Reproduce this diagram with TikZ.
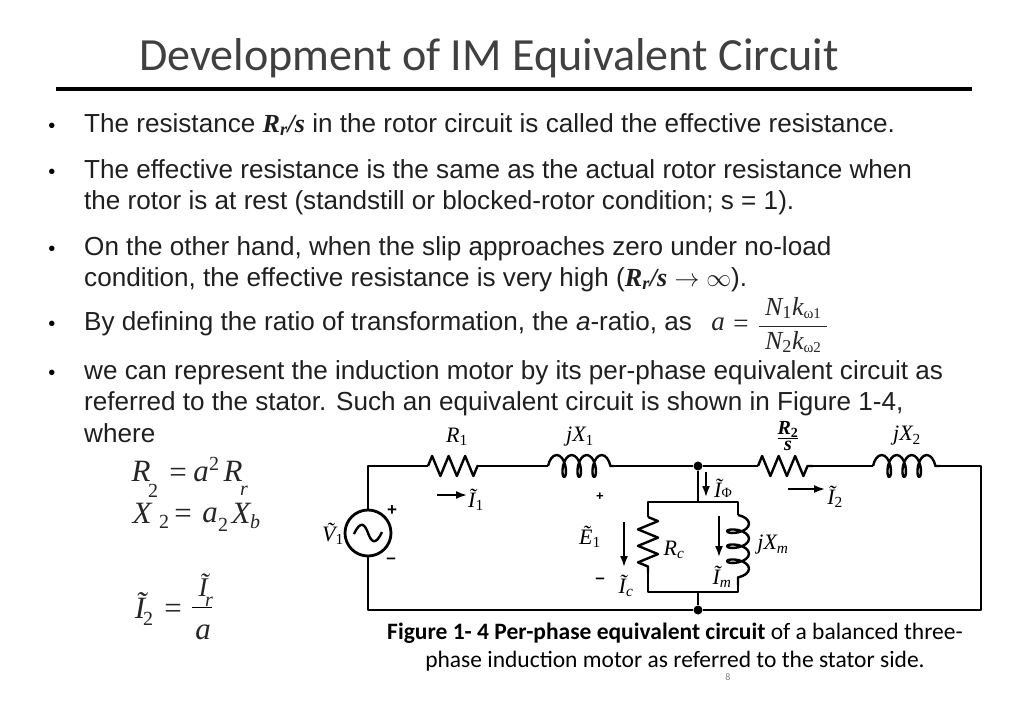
\documentclass[tikz,border=0pt]{standalone}
\usepackage{fontspec}
\setmainfont{Liberation Sans}
\newfontfamily\tms{Liberation Serif}
\newfontfamily\clb{Carlito}
\usetikzlibrary{arrows,arrows.meta,calc,positioning,decorations.pathmorphing}
\newcommand{\tld}[1]{\~{#1}}
\newcommand{\sbs}[1]{\textsubscript{\upshape #1}}
\newcommand{\bodyfrac}[2]{$\displaystyle\frac{\mbox{#1}}{\mbox{#2}}$}
\tikzset{
    wire/.style = {draw, line width=2.8pt, line join=round},
    res/.style = {wire, line width=2.4pt, decorate, decoration={zigzag, segment length=16.5pt, amplitude=10pt}},
    ind/.style = {wire, line width=2.4pt, decorate, decoration={coil, aspect=0.45, segment length=15pt, amplitude=11pt}},
    source/.style = {draw, circle, line width=2.8pt, minimum size=46pt, inner sep=0pt},
    dot/.style = {circle, fill=black, minimum size=9pt, inner sep=0pt},
    flow/.style = {draw, line width=1.8pt, -{Latex[length=11pt,width=8pt]}},
    lbl/.style = {inner sep=0pt, font=\fontsize{22}{24}\selectfont\tms\itshape},
    sign/.style = {inner sep=0pt, font=\fontsize{17}{18}\selectfont\bfseries},
    line/.style = {anchor=base west, inner sep=0pt, text=black!88, font=\fontsize{26.1}{28}\selectfont},
    bullet/.style = {inner sep=0pt, font=\fontsize{20}{24}\selectfont},
    eqn/.style = {inner sep=0pt, font=\fontsize{31}{34}\selectfont\tms\itshape, text=black!85},
    eqs/.style = {inner sep=0pt, font=\fontsize{20}{22}\selectfont\tms\itshape, text=black!85},
    eqr/.style = {inner sep=0pt, font=\fontsize{20}{22}\selectfont\tms, text=black!85},
    caption/.style = {inner sep=0pt, align=center, font=\fontsize{23.5}{27.5}\selectfont\clb}
}
\begin{document}
\begin{tikzpicture}[x=1pt, y=-1pt, auto, >=latex']
    \useasboundingbox (0,0) rectangle (1024,709);
    \node [inner sep=0pt, font=\fontsize{46.1}{50}\selectfont\clb, text=black!75] (title) at (489,58) {Development of IM Equivalent Circuit};
    \coordinate (rulea) at (56,89);
    \coordinate (ruleb) at (972,89);
    \draw [line width=3.4pt] (rulea) -- (ruleb);

    \node [bullet] (b1) at (52,128) {•};
    \node [line] (l1) at (84,132) {The resistance {\tms\bfseries\itshape R\textsubscript{r}/s} in the rotor circuit is called the effective resistance.};
    \node [bullet] (b2) at (52,174) {•};
    \node [line] (l2) at (84,178) {The effective resistance is the same as the actual rotor resistance when};
    \node [line] (l3) at (84,209) {the rotor is at rest (standstill or blocked-rotor condition; s = 1).};
    \node [bullet] (b3) at (52,251) {•};
    \node [line] (l4) at (84,255) {On the other hand, when the slip approaches zero under no-load};
    \node [line] (l5) at (84,286) {condition, the effective resistance is very high ({\tms\bfseries\itshape R\textsubscript{r}/s} $\rightarrow\infty$).};
    \node [bullet] (b4) at (52,326) {•};
    \node [line] (l6) at (84,330) {By defining the ratio of transformation, the {\itshape a}-ratio, as};
    \node [eqs, font=\fontsize{27}{28}\selectfont\tms\itshape] (ea) at (718,324) {a};
    \node [eqr, font=\fontsize{27}{28}\selectfont\tms] (eeq) at (741,326) {=};
    \node [eqs, font=\fontsize{26}{28}\selectfont\tms\itshape] (efr) at (793,325) {\bodyfrac{\hspace*{6pt}N\sbs{1}k{\fontsize{15}{15}\selectfont\raisebox{-3pt}{\upshape ω1}}\hspace*{6pt}}{N\sbs{2}k{\fontsize{15}{15}\selectfont\raisebox{-3pt}{\upshape ω2}}}};
    \node [bullet] (b5) at (52,375) {•};
    \node [line] (l7) at (84,379) {we can represent the induction motor by its per-phase equivalent circuit as};
    \node [line] (l8) at (84,410) {referred to the stator. Such an equivalent circuit is shown in Figure 1-4,};
    \node [line] (l9) at (84,442) {where};

    \node [eqn] (rt) at (141,471) {R};
    \node [eqr] (rts) at (153,491) {2};
    \node [eqr, font=\fontsize{31}{34}\selectfont\tms] (rte) at (178,475) {=};
    \node [eqn] (rta) at (201,474) {a};
    \node [eqr] (rtp) at (214,464) {2};
    \node [eqn] (rtr) at (233,471) {R};
    \node [eqs] (rtb) at (244,491) {r};
    \node [eqn] (xt) at (142,513) {X};
    \node [eqr] (xts) at (164,522) {2};
    \node [eqr, font=\fontsize{31}{34}\selectfont\tms] (xte) at (183,516) {=};
    \node [eqn] (xta) at (210,515) {a};
    \node [eqr] (xtp) at (223,525) {2};
    \node [eqn] (xtx) at (241,513) {X};
    \node [eqs] (xtb) at (255,522) {b};
    \node [eqn] (it) at (140,606) {\tld{I}};
    \node [eqr] (its) at (148,619) {2};
    \node [eqr, font=\fontsize{31}{34}\selectfont\tms] (ite) at (173,611) {=};
    \node [eqn, font=\fontsize{27}{30}\selectfont\tms\itshape] (itn) at (203,585) {\tld{I}};
    \node [eqs] (itr) at (209,602) {r};
    \coordinate (bara) at (192,607);
    \coordinate (barb) at (212,607);
    \draw [line width=0.8pt] (bara) -- (barb);
    \node [eqn] (itd) at (203,632) {a};

    \coordinate (tl) at (368,466);
    \coordinate (bl) at (368,610);
    \coordinate (tr) at (981,466);
    \coordinate (br) at (981,610);
    \node [source] (vs) at (368,533) {};
    \coordinate (r1a) at (428,466);
    \coordinate (r1b) at (478,466);
    \coordinate (l1a) at (548,466);
    \coordinate (l1b) at (614,466);
    \coordinate (r2a) at (758,466);
    \coordinate (r2b) at (813,466);
    \coordinate (l2a) at (873,466);
    \coordinate (l2b) at (940,466);
    \node [dot] (top) at (698,466) {};
    \node [dot] (bot) at (698,610) {};
    \coordinate (boxt) at (698,502);
    \coordinate (boxb) at (698,592);
    \coordinate (rct) at (648,502);
    \coordinate (rcb) at (648,592);
    \coordinate (rca) at (648,517);
    \coordinate (rcc) at (648,573);
    \coordinate (lmt) at (738,502);
    \coordinate (lmb) at (738,592);
    \coordinate (lma) at (738,515);
    \coordinate (lmc) at (738,585);

    \draw [wire] (vs) -- (tl) -- (r1a);
    \draw [res] (r1a) -- (r1b);
    \draw [wire] (r1b) -- (l1a);
    \draw [ind] (l1a) -- (l1b);
    \draw [wire] (l1b) -- (top) -- (r2a);
    \draw [res] (r2a) -- (r2b);
    \draw [wire] (r2b) -- (l2a);
    \draw [ind] (l2a) -- (l2b);
    \draw [wire] (l2b) -- (tr) -- (br) -- (bot) -- (bl) -- (vs);
    \draw [wire] (top) -- (boxt);
    \draw [wire] (bot) -- (boxb);
    \draw [wire] (rca) -- (rct) -- (lmt) -- (lma);
    \draw [wire] (rcc) -- (rcb) -- (lmb) -- (lmc);
    \draw [res] (rca) -- (rcc);
    \draw [ind] (lma) -- (lmc);
    \draw [line width=2.4pt] ($(vs)+(-14,1)$) .. controls ($(vs)+(-7,-14)$) and ($(vs)+(-3,-8)$) .. ($(vs)+(0,0)$) .. controls ($(vs)+(3,8)$) and ($(vs)+(7,14)$) .. ($(vs)+(14,-1)$);

    \coordinate (i1a) at (437,495);
    \coordinate (i1b) at (467,495);
    \draw [flow] (i1a) -- (i1b);
    \coordinate (ica) at (624,522);
    \coordinate (icb) at (624,567);
    \draw [flow] (ica) -- (icb);
    \coordinate (ipa) at (706,472);
    \coordinate (ipb) at (706,497);
    \draw [flow] (ipa) -- (ipb);
    \coordinate (i2a) at (788,489);
    \coordinate (i2b) at (825,489);
    \draw [flow] (i2a) -- (i2b);
    \coordinate (ima) at (719,516);
    \coordinate (imb) at (719,557);
    \draw [flow] (ima) -- (imb);

    \node [lbl] (lr1) at (457,437) {R\sbs{1}};
    \node [lbl] (lx1) at (580,437) {jX\sbs{1}};
    \node [lbl] (li1) at (476,500) {\tld{I}\sbs{1}};
    \node [sign, font=\fontsize{13}{14}\selectfont\bfseries] (pe) at (600,497) {+};
    \node [lbl] (le1) at (590,537) {\tld{E}\sbs{1}};
    \node [sign] (me) at (600,581) {–};
    \node [lbl] (lic) at (626,586) {\tld{I}\textsubscript{c}};
    \node [lbl] (lv1) at (333,534) {\tld{V}\sbs{1}};
    \node [sign] (pv) at (392,511) {+};
    \node [sign] (mv) at (391,561) {–};
    \node [lbl, font=\fontsize{20}{22}\selectfont\tms\itshape\bfseries] (lr2) at (788,436) {$\frac{\mbox{R\sbs{2}}}{\mbox{s}}$};
    \node [lbl] (lx2) at (907,436) {jX\sbs{2}};
    \node [lbl] (lip) at (723,488) {\tld{I}{\fontsize{14}{14}\selectfont\upshape Φ}};
    \node [lbl] (li2) at (835,497) {\tld{I}\sbs{2}};
    \node [lbl] (lrc) at (674,550) {R\textsubscript{c}};
    \node [lbl] (lxm) at (773,545) {jX\textsubscript{m}};
    \node [lbl] (lim) at (722,577) {\tld{I}\textsubscript{m}};

    \node [caption] (cap) at (675,647) {{\bfseries Figure 1- 4 Per-phase equivalent circuit} of a balanced three-\\phase induction motor as referred to the stator side.};
    \node [inner sep=0pt, font=\fontsize{10}{12}\selectfont\clb, text=black!50] (page) at (728,677) {8};
\end{tikzpicture}
\end{document}
